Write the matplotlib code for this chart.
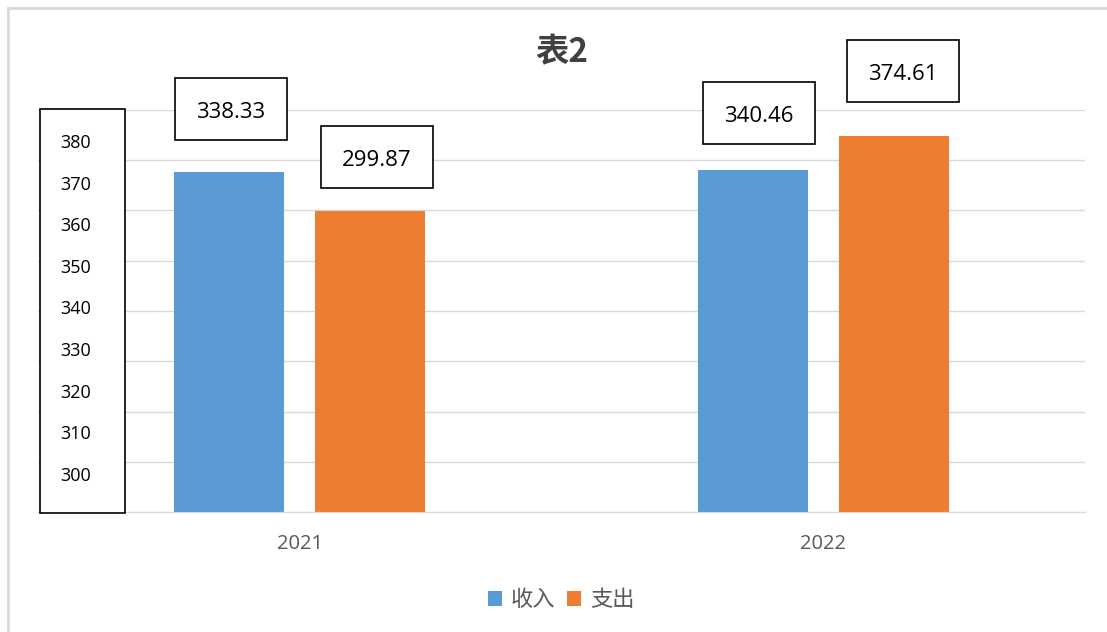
import numpy as np
import matplotlib.pyplot as plt
from matplotlib.patches import Rectangle
from matplotlib.lines import Line2D

years = ['2021', '2022']
income = [338.33, 340.46]
expense = [299.87, 374.61]
series_names = ['收入', '支出']
box_ticks = ['380', '370', '360', '350', '340', '330', '320', '310', '300']

plt.rcParams['font.family'] = ['Open Sans', 'Noto Sans CJK SC', 'DejaVu Sans']

W, H = 1107, 632
fig = plt.figure(figsize=(W / 100, H / 100), dpi=100)


def fx(px):
    return px / W


def fy(py):
    return 1 - py / H


# main plot area
ax = fig.add_axes([fx(38), fy(512), (1085 - 38) / W, (512 - 110) / H])
x = np.arange(len(years))
bw = 0.21
ax.bar(x - 0.135, income, bw, color='#5B9BD5', zorder=2, label=series_names[0])
ax.bar(x + 0.135, expense, bw, color='#ED7D31', zorder=2, label=series_names[1])
ax.set_xlim(-0.5, 1.5)
ax.set_ylim(0, 400)
ax.set_yticks(np.arange(0, 401, 50))
ax.yaxis.grid(True, color='#D9D9D9', lw=1)
ax.set_axisbelow(True)
for s in ['top', 'right', 'left']:
    ax.spines[s].set_visible(False)
ax.spines['bottom'].set_color('#D9D9D9')
ax.set_xticks(x)
ax.set_xticklabels(years, fontsize=14.5, color='#595959')
ax.tick_params(axis='y', left=False, labelleft=False)
ax.tick_params(axis='x', length=0, pad=16)

# boxed fake y axis
fig.add_artist(Rectangle((fx(40), fy(513)), (125 - 40) / W, (513 - 109) / H,
                         transform=fig.transFigure, facecolor='white',
                         edgecolor='black', lw=1.2, zorder=5))
for i, t in enumerate(box_ticks):
    fig.text(fx(76), fy(143 + i * 41.6), t, fontsize=13, ha='center',
             va='center', color='black', zorder=6)

# boxed value labels
label_pos = [(231, 109), (377, 157), (759, 113), (903, 71)]
vals = [income[0], expense[0], income[1], expense[1]]
for (cx, cy), v in zip(label_pos, vals):
    fig.add_artist(Rectangle((fx(cx - 56), fy(cy + 31)), 112 / W, 62 / H,
                             transform=fig.transFigure, facecolor='white',
                             edgecolor='black', lw=1.2, zorder=5))
    fig.text(fx(cx), fy(cy + 3), f'{v:.2f}', fontsize=16, ha='center',
             va='center', color='black', zorder=6)

# title
fig.text(fx(562), fy(53), '表2', fontsize=24, weight='bold', color='#404040',
         ha='center', va='center', family=['Noto Sans CJK SC', 'DejaVu Sans'])

# legend
handles, labels = ax.get_legend_handles_labels()
leg = fig.legend(handles, labels, loc='center', bbox_to_anchor=(fx(561), fy(601)),
                 ncol=2, frameon=False, handlelength=0.65, handleheight=0.65,
                 columnspacing=0.5, handletextpad=0.4, fontsize=16)
for t in leg.get_texts():
    t.set_color('#595959')

# outer chart frame
fig.add_artist(Line2D([fx(8), 1], [fy(8), fy(8)], color='#D9D9D9', lw=2))
fig.add_artist(Line2D([fx(8), fx(8)], [fy(8), 0], color='#D9D9D9', lw=2))

fig.savefig('out.png', dpi=100)
